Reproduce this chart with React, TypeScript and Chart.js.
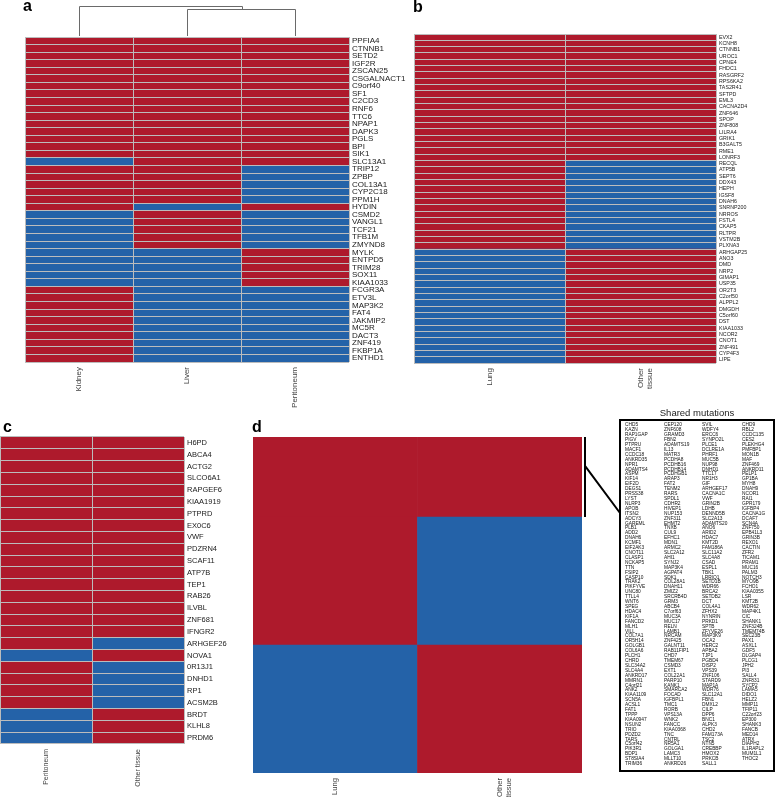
import React, { useEffect, useRef } from "react";
import { Chart, registerables } from "chart.js";
Chart.register(...registerables);

const RED = "#AE1A2C";
const BLUE = "#2462A8";
const SEP = "#bcbcbc";
const FONT = "'Liberation Sans', Arial, Helvetica, sans-serif";

// ---------- Panel a ----------
const aTissues = ["Kidney", "Liver", "Peritoneum"];
const aGenes = [
  "PPFIA4", "CTNNB1", "SETD2", "IGF2R", "ZSCAN25", "CSGALNACT1", "C9orf40", "SF1", "C2CD3", "RNF6",
  "TTC6", "NPAP1", "DAPK3", "PGLS", "BPI", "SIK1", "SLC13A1", "TRIP12", "ZPBP", "COL13A1",
  "CYP2C18", "PPM1H", "HYDIN", "CSMD2", "VANGL1", "TCF21", "TFB1M", "ZMYND8", "MYLK", "ENTPD5",
  "TRIM28", "SOX11", "KIAA1033", "FCGR3A", "ETV3L", "MAP3K2", "FAT4", "JAKMIP2", "MC5R", "DACT3",
  "ZNF419", "FKBP1A", "ENTHD1",
];
const aKidney = [
  1, 1, 1, 1, 1, 1, 1, 1, 1, 1, 1, 1, 1, 1, 1, 1, 0, 1, 1, 1,
  1, 1, 1, 0, 0, 0, 0, 0, 0, 0, 0, 0, 0, 1, 1, 1, 1, 1, 1, 1,
  1, 1, 1,
];
const aLiver = [
  1, 1, 1, 1, 1, 1, 1, 1, 1, 1, 1, 1, 1, 1, 1, 1, 1, 1, 1, 1,
  1, 1, 0, 1, 1, 1, 1, 1, 0, 0, 0, 0, 0, 0, 0, 0, 0, 0, 0, 0,
  0, 0, 0,
];
const aPeritoneum = [
  1, 1, 1, 1, 1, 1, 1, 1, 1, 1, 1, 1, 1, 1, 1, 1, 1, 0, 0, 0,
  0, 0, 1, 0, 0, 0, 0, 0, 1, 1, 1, 1, 1, 0, 0, 0, 0, 0, 0, 0,
  0, 0, 0,
];
// dendrogram merge heights: (Liver, Peritoneum), then (Kidney, [Liver, Peritoneum])
const aDendroHeights = [0.91, 1.0];

// ---------- Panel b ----------
const bTissues = ["Lung", "Other tissue"];
const bColLabels: (string | string[])[] = ["Lung", ["Other", "tissue"]];
const bGenes = [
  "EVX2", "KCNH8", "CTNNB1", "UROC1", "CPNE4", "FHDC1", "RASGRF2", "RPS6KA2", "TAS2R41", "SFTPD",
  "EML3", "CACNA2D4", "ZNF646", "SPOP", "ZNF808", "LILRA4", "GRIK1", "B3GALT5", "RME1", "LONRF3",
  "RECQL", "ATP5B", "SEPT6", "DDX43", "HEPH", "IGSF8", "DNAH6", "SNRNP200", "NRROS", "FSTL4",
  "CKAP5", "RLTPR", "VSTM2B", "PLXNA3", "ARHGAP25", "ANO3", "DMD", "NRP2", "GIMAP1", "USP35",
  "OR2T3", "C2orf50", "ALPPL2", "DMGDH", "C5orf60", "DST", "KIAA1033", "NCOR2", "CNOT1", "ZNF491",
  "CYP4F3", "LIPE",
];
const bLung = [
  1, 1, 1, 1, 1, 1, 1, 1, 1, 1, 1, 1, 1, 1, 1, 1, 1, 1, 1, 1,
  1, 1, 1, 1, 1, 1, 1, 1, 1, 1, 1, 1, 1, 1, 0, 0, 0, 0, 0, 0,
  0, 0, 0, 0, 0, 0, 0, 0, 0, 0, 0, 0,
];
const bOther = [
  1, 1, 1, 1, 1, 1, 1, 1, 1, 1, 1, 1, 1, 1, 1, 1, 1, 1, 1, 1,
  0, 0, 0, 0, 0, 0, 0, 0, 0, 0, 0, 0, 0, 0, 1, 1, 1, 1, 1, 1,
  1, 1, 1, 1, 1, 1, 1, 1, 1, 1, 1, 1,
];

// ---------- Panel c ----------
const cTissues = ["Peritoneum", "Other tissue"];
const cGenes = [
  "H6PD", "ABCA4", "ACTG2", "SLCO6A1", "RAPGEF6", "KIAA1919", "PTPRD", "EX0C6", "VWF", "PDZRN4",
  "SCAF11", "ATP7B", "TEP1", "RAB26", "ILVBL", "ZNF681", "IFNGR2", "ARHGEF26", "NOVA1", "0R13J1",
  "DNHD1", "RP1", "ACSM2B", "BRDT", "KLHL8", "PRDM6",
];
const cPeritoneum = [
  1, 1, 1, 1, 1, 1, 1, 1, 1, 1, 1, 1, 1, 1, 1, 1, 1, 1, 0, 1,
  1, 1, 1, 0, 0, 0,
];
const cOther = [
  1, 1, 1, 1, 1, 1, 1, 1, 1, 1, 1, 1, 1, 1, 1, 1, 1, 0, 1, 0,
  0, 0, 0, 1, 1, 1,
];

// ---------- Panel d ----------
const dTissues = ["Lung", "Other tissue"];
const dColLabels: (string | string[])[] = ["Lung", ["Other", "tissue"]];
// stacked from bottom: other-tissue private, lung private, shared
const dSegmentNames = ["Other tissue only", "Lung only", "Shared"];
const dSegmentSizes = [8, 8, 5];
const dSegmentLung = [0, 1, 1];
const dSegmentOther = [1, 0, 1];

const sharedCol1 = [
  "CHD5", "KAZN", "RAP1GAP", "PIGV", "PTPRU", "MACF1", "CCDC18", "ANKRD35", "NPR1", "ADAMTS4",
  "ASPM", "KIF14", "EIF2D", "DEGS1", "PRSS38", "LYST", "NLRP3", "APOB", "ITSN2", "ADCY3",
  "GAREML", "PLB1", "ADD2", "DNAH6", "KCMF1", "EIF2AK3", "CNOT11", "CLASP1", "NCKAP5", "TTN",
  "FSIP2", "CASP10", "TRAK2", "PIKFYVE", "UNC80", "TTLL4", "WNT6", "SPEG", "HDAC4", "KIF1A",
  "FANCD2", "MLH1", "VILL", "COL7A1", "OR5H14", "GOLGB1", "COL6A6", "PLCH1", "CHRD", "SLC34A2",
  "SLC4A4", "ANKRD17", "MMRN1", "C4orf21", "ANK2", "KIAA1109", "SCN5A", "ACSL1", "FAT1", "TPPP",
  "KIAA0947", "NSUN2", "TRIO", "PDZD2", "TARS", "C5orf42", "PIK3R1", "BDP1", "ST8SIA4", "TRIM36",
];
const sharedCol2 = [
  "CEP120", "ZNF608", "GRAMD3", "FBN2", "ADAMTS19", "IL13", "MATR3", "PCDHA8", "PCDHB16", "PCDHB14",
  "PCDHGB1", "ARAP3", "FAT2", "TENM2", "RARS", "SPDL1", "CDHR2", "HIVEP1", "NUP153", "ZNF311",
  "EHMT2", "TNXB", "CUL9", "EFHC1", "MDN1", "ARMC2", "SLC2A12", "AHI1", "SYNJ2", "MAP3K4",
  "AGPAT4", "SDK1", "COL28A1", "DNAH11", "ZMIZ2", "SRCRB4D", "GRM3", "ABCB4", "C7orf63", "MUC3A",
  "MUC17", "RELN", "LAMB1", "NRCAM", "ZNF425", "GALNT11", "RAB11FIP1", "CHD7", "TMEM67", "CSMD3",
  "EXT1", "COL22A1", "PARP10", "KANK1", "SMARCA2", "FOCAD", "IGFBPL1", "TMC1", "RORB", "VPS13A",
  "WNK2", "FANCC", "KIAA0368", "TNC", "CNTRL", "NR5A1", "GOLGA1", "LAMC3", "MLLT10", "ANKRD26",
];
const sharedCol3 = [
  "SVIL", "WDFY4", "ERCC6", "SYNPO2L", "PLCE1", "DCLRE1A", "PHRF1", "MUC5B", "NUP98", "DNHD1",
  "TTC17", "NR1H3", "GIF", "ARHGEF17", "CACNA1C", "VWF", "GRIN2B", "LDHB", "DENND5B", "SLC2A13",
  "ADAMTS20", "ANO6", "ARID2", "HDAC7", "KMT2D", "FAM186A", "SLC11A2", "SLC4A8", "CSAD", "ESPL1",
  "TBK1", "LRRIQ1", "SETD1B", "WDR66", "BRCA2", "SETDB2", "DCT", "COL4A1", "ZFHX2", "NYNRIN",
  "PRKD1", "SPTB", "ZFYVE26", "MAP3K9", "OCA2", "HERC2", "APBA2", "TJP1", "PGBD4", "DISP2",
  "VPS39", "ZNF106", "STARD9", "MAP1A", "WDR76", "SLC12A1", "FBN1", "DMXL2", "CILP", "DPP6",
  "BNC1", "ALPK3", "CHD2", "FAM173A", "TSC2", "NTN5", "CREBBP", "HMOX2", "PRKCB", "SALL1",
];
const sharedCol4 = [
  "CHD9", "RBL2", "CCDC135", "CES2", "PLEKHG4", "PMFBP1", "MON1B", "MAF", "ZNF469", "ANKRD11",
  "PELP1", "GP1BA", "MYH8", "DNAH9", "NCOR1", "RAI1", "GPR179", "IGFBP4", "CACNA1G", "DCAF7",
  "SCN4A", "ZNF750", "EPB41L3", "GRIN3B", "REXO1", "CACTIN", "ZFR2", "TICAM1", "PRAM1", "MUC16",
  "PALM3", "NOTCH3", "MYO9B", "FCHO1", "KIAA0355", "LSR", "KMT2B", "WDR62", "MAP4K1", "CIC",
  "SHANK1", "ZNF324B", "TMEM74B", "SEC23B", "PAX1", "ASXL1", "GDF5", "DLGAP4", "PLCG1", "JPH2",
  "PI3", "SALL4", "ZNF831", "SYCP2", "LAMA5", "DIDO1", "HELZ2", "MMP11", "TFIP11", "C22orf23",
  "EP300", "SHANK3", "FANCB", "MED14", "ATRX", "DIAPH2", "IL1RAPL2", "MUM1L1", "THOC2",
];
const sharedTitle = "Shared mutations";

type HeatOpts = {
  genes: string[];
  tissues: string[];
  colLabels: (string | string[])[];
  cols: number[][];
  pad: { left: number; top: number; right: number; bottom: number };
  yW: number;
  xH: number;
  geneFont: number;
  colFont: number;
  plugins?: any[];
};

function makeHeatmap(canvas: HTMLCanvasElement, p: HeatOpts) {
  const n = p.tissues.length;
  return new Chart(canvas, {
    type: "bar",
    data: {
      labels: p.genes,
      datasets: p.cols.map((vals, j) => ({
        label: p.tissues[j],
        data: vals.map(() => [j, j + 1]),
        backgroundColor: vals.map((v) => (v ? RED : BLUE)),
        borderWidth: 0,
        barPercentage: 1,
        categoryPercentage: 1,
        grouped: false,
      })) as any,
    },
    options: {
      indexAxis: "y",
      responsive: false,
      animation: false,
      devicePixelRatio: 1,
      layout: { padding: p.pad },
      plugins: { legend: { display: false }, tooltip: { enabled: false } },
      scales: {
        y: {
          type: "category",
          position: "right",
          offset: true,
          grid: { offset: true, color: SEP, z: 1, drawTicks: false, lineWidth: 1 },
          border: { display: false },
          ticks: { padding: 3, autoSkip: false, color: "#1a1a1a", font: { family: FONT, size: p.geneFont } },
          afterFit: (s: any) => { s.width = p.yW; },
        },
        x: {
          type: "linear",
          position: "bottom",
          min: 0,
          max: n,
          grid: { color: SEP, z: 1, drawTicks: false, lineWidth: 1 },
          border: { display: false },
          ticks: { display: false },
          afterBuildTicks: (s: any) => {
            s.ticks = [...p.tissues.map((_, j) => ({ value: j })), { value: n }];
          },
          afterFit: (s: any) => { s.height = 0; },
        },
        xl: {
          type: "linear",
          position: "bottom",
          min: 0,
          max: n,
          grid: { display: false, drawTicks: false },
          border: { display: false },
          afterBuildTicks: (s: any) => {
            s.ticks = p.tissues.map((_, j) => ({ value: j + 0.5 }));
          },
          ticks: {
            autoSkip: false,
            minRotation: 90,
            maxRotation: 90,
            padding: 5,
            color: "#444",
            font: { family: FONT, size: p.colFont },
            callback: (_v: any, i: number) => p.colLabels[i],
          },
          afterFit: (s: any) => { s.height = p.xH; },
        },
      } as any,
    },
    plugins: p.plugins || [],
  });
}

const dendroPlugin = {
  id: "dendro",
  afterDraw(chart: any) {
    const ctx = chart.ctx;
    const xs = chart.scales.xl;
    const top = chart.chartArea.top - 1;
    const span = top - 6;
    const cx = aTissues.map((_, j) => Math.round(xs.getPixelForValue(j + 0.5)) + 0.5);
    const hMax = Math.max(...aDendroHeights);
    const yOf = (h: number) => Math.round(top - (h / hMax) * span) + 0.5;
    const y1 = yOf(aDendroHeights[0]);
    const y2 = yOf(aDendroHeights[1]);
    const mid = Math.round((cx[1] + cx[2]) / 2) + 0.5;
    ctx.save();
    ctx.strokeStyle = "#6a6a6a";
    ctx.lineWidth = 1;
    ctx.beginPath();
    ctx.moveTo(cx[1], top);
    ctx.lineTo(cx[1], y1);
    ctx.lineTo(cx[2], y1);
    ctx.lineTo(cx[2], top);
    ctx.moveTo(cx[0], top);
    ctx.lineTo(cx[0], y2);
    ctx.lineTo(mid, y2);
    ctx.lineTo(mid, y1);
    ctx.stroke();
    ctx.restore();
  },
};

// box geometry in panel-d canvas coordinates
const BOX = { left: 380, top: 20, right: 534, bottom: 371 };
const BOX_COLS_X = [385, 424, 462, 502];
const BOX_ROW0 = 25;
const BOX_ROW_STEP = 4.91;

const sharedPlugin = {
  id: "shared",
  afterDraw(chart: any) {
    const ctx = chart.ctx;
    const ys = chart.scales.y;
    const area = chart.chartArea;
    const total = dSegmentSizes.reduce((a, s) => a + s, 0);
    const yTop = ys.getPixelForValue(total);
    const yBot = ys.getPixelForValue(total - dSegmentSizes[2]);
    const bx = area.right + 3;
    ctx.save();
    ctx.strokeStyle = "#000";
    ctx.lineWidth = 2;
    ctx.beginPath();
    ctx.moveTo(bx, yTop);
    ctx.lineTo(bx, yBot);
    ctx.moveTo(bx, yTop + 0.36 * (yBot - yTop));
    ctx.lineTo(BOX.left, BOX.top + 93);
    ctx.stroke();
    ctx.strokeRect(BOX.left, BOX.top, BOX.right - BOX.left, BOX.bottom - BOX.top);
    ctx.fillStyle = "#222";
    ctx.font = `9.5px ${FONT}`;
    ctx.textAlign = "center";
    ctx.textBaseline = "alphabetic";
    ctx.fillText(sharedTitle, (BOX.left + BOX.right) / 2, 16);
    ctx.fillStyle = "#111";
    ctx.font = `4.8px ${FONT}`;
    ctx.textAlign = "left";
    ctx.textBaseline = "middle";
    [sharedCol1, sharedCol2, sharedCol3, sharedCol4].forEach((col, ci) => {
      col.forEach((g, ri) => {
        ctx.fillText(g, BOX_COLS_X[ci], BOX_ROW0 + ri * BOX_ROW_STEP);
      });
    });
    ctx.restore();
  },
};

function makePanelD(canvas: HTMLCanvasElement) {
  return new Chart(canvas, {
    type: "bar",
    data: {
      labels: dTissues,
      datasets: dSegmentSizes.map((size, i) => ({
        label: dSegmentNames[i],
        data: dTissues.map(() => size),
        backgroundColor: [dSegmentLung[i] ? RED : BLUE, dSegmentOther[i] ? RED : BLUE],
        borderWidth: 0,
        barPercentage: 1,
        categoryPercentage: 1,
      })),
    },
    options: {
      responsive: false,
      animation: false,
      devicePixelRatio: 1,
      layout: { padding: { left: 13, top: 37, right: 194, bottom: 0 } },
      plugins: { legend: { display: false }, tooltip: { enabled: false } },
      scales: {
        x: {
          stacked: true,
          grid: { display: false, drawTicks: false },
          border: { display: false },
          ticks: {
            autoSkip: false,
            minRotation: 90,
            maxRotation: 90,
            padding: 5,
            color: "#444",
            font: { family: FONT, size: 7.6 },
            callback: (_v: any, i: number) => dColLabels[i],
          },
          afterFit: (s: any) => { s.height = 24; },
        },
        y: {
          stacked: true,
          display: false,
          min: 0,
          max: dSegmentSizes.reduce((a, s) => a + s, 0),
        },
      } as any,
    },
    plugins: [sharedPlugin],
  });
}

const panelLabel = (txt: string, left: number, top: number) => (
  <div
    style={{
      position: "absolute",
      left,
      top,
      font: `bold 16px ${FONT}`,
      lineHeight: "16px",
      color: "#000",
    }}
  >
    {txt}
  </div>
);

export default function App() {
  const aRef = useRef<HTMLCanvasElement>(null);
  const bRef = useRef<HTMLCanvasElement>(null);
  const cRef = useRef<HTMLCanvasElement>(null);
  const dRef = useRef<HTMLCanvasElement>(null);

  useEffect(() => {
    const charts: Chart[] = [];
    charts.push(
      makeHeatmap(aRef.current!, {
        genes: aGenes,
        tissues: aTissues,
        colLabels: aTissues,
        cols: [aKidney, aLiver, aPeritoneum],
        pad: { left: 25, top: 37, right: 0, bottom: 0 },
        yW: 71,
        xH: 58,
        geneFont: 8,
        colFont: 8,
        plugins: [dendroPlugin],
      })
    );
    charts.push(
      makeHeatmap(bRef.current!, {
        genes: bGenes,
        tissues: bTissues,
        colLabels: bColLabels,
        cols: [bLung, bOther],
        pad: { left: 24, top: 34, right: 0, bottom: 0 },
        yW: 60,
        xH: 57,
        geneFont: 5.3,
        colFont: 8,
      })
    );
    charts.push(
      makeHeatmap(cRef.current!, {
        genes: cGenes,
        tissues: cTissues,
        colLabels: cTissues,
        cols: [cPeritoneum, cOther],
        pad: { left: 0, top: 17, right: 0, bottom: 0 },
        yW: 66,
        xH: 53,
        geneFont: 7.5,
        colFont: 7,
      })
    );
    charts.push(makePanelD(dRef.current!));
    return () => charts.forEach((c) => c.destroy());
  }, []);

  const cv = (ref: any, left: number, top: number, w: number, h: number) => (
    <canvas
      ref={ref}
      width={w}
      height={h}
      style={{ position: "absolute", left, top, width: w, height: h }}
    />
  );

  return (
    <div
      style={{
        position: "absolute",
        left: 0,
        top: 0,
        width: 776,
        height: 797,
        background: "#fff",
        overflow: "hidden",
      }}
    >
      {cv(aRef, 0, 0, 420, 420)}
      {cv(bRef, 390, 0, 386, 420)}
      {cv(cRef, 0, 420, 250, 377)}
      {cv(dRef, 240, 400, 536, 397)}
      {panelLabel("a", 23, -2)}
      {panelLabel("b", 413, -1)}
      {panelLabel("c", 3, 419)}
      {panelLabel("d", 252, 419)}
    </div>
  );
}
